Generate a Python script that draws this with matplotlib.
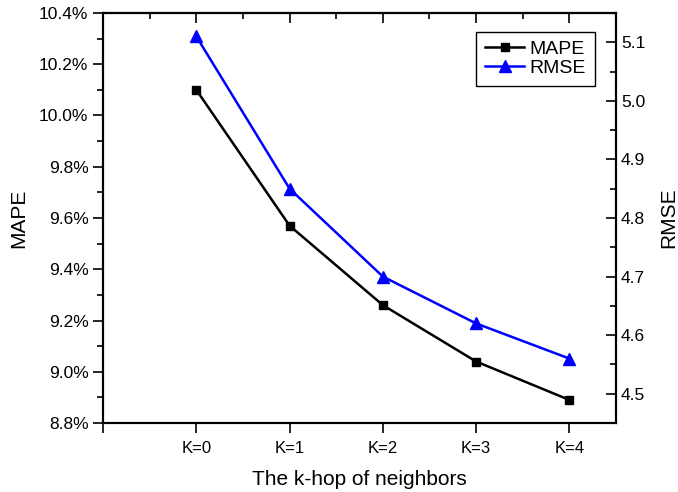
import matplotlib
matplotlib.use("Agg")
import matplotlib.pyplot as plt
from matplotlib.ticker import MultipleLocator, FuncFormatter, FixedLocator

plt.rcParams['font.family'] = ['Liberation Sans', 'DejaVu Sans']

categories = ["K=0", "K=1", "K=2", "K=3", "K=4"]
mape = [10.10, 9.57, 9.26, 9.04, 8.89]
rmse = [5.11, 4.85, 4.70, 4.62, 4.56]

fig = plt.figure(figsize=(6.78, 4.92), dpi=100)
ax = fig.add_axes([0.152, 0.1402, 0.7566, 0.8334])
ax2 = ax.twinx()

x = list(range(len(categories)))
l1, = ax.plot(x, mape, color='black', lw=1.8, marker='s', ms=6, label='MAPE')
l2, = ax2.plot(x, rmse, color='#0000ff', lw=1.8, marker='^', ms=8, label='RMSE')

ax.set_xlim(-1, 4.5)
ax.set_ylim(8.8, 10.4)
ax2.set_ylim(4.45, 5.15)

ax.xaxis.set_major_locator(FixedLocator([-1, 0, 1, 2, 3, 4]))
ax.set_xticklabels([""] + categories)

ax.yaxis.set_major_locator(MultipleLocator(0.2))
ax.yaxis.set_minor_locator(MultipleLocator(0.1))
ax.yaxis.set_major_formatter(FuncFormatter(lambda v, p: f"{v:.1f}%"))
ax2.yaxis.set_major_locator(MultipleLocator(0.1))
ax2.yaxis.set_minor_locator(MultipleLocator(0.05))
ax2.yaxis.set_major_formatter(FuncFormatter(lambda v, p: f"{v:.1f}"))

ax.tick_params(axis='x', which='major', direction='out', bottom=True, top=False, length=7, width=1.2, labelsize=12, pad=6)
ax.tick_params(axis='x', which='minor', bottom=False, top=False)
secx = ax.secondary_xaxis('top')
secx.xaxis.set_major_locator(FixedLocator([-1, 0, 1, 2, 3, 4]))
secx.xaxis.set_minor_locator(FixedLocator([-0.5, 0.5, 1.5, 2.5, 3.5]))
secx.tick_params(which='major', direction='in', length=7, width=1.2, labeltop=False)
secx.tick_params(which='minor', direction='in', length=4, width=1.2)
secx.spines['top'].set_linewidth(1.5)

ax.tick_params(axis='y', which='major', direction='out', left=True, right=False, length=7, width=1.2, labelsize=12.5)
ax.tick_params(axis='y', which='minor', direction='out', left=True, right=False, length=4, width=1.2)
ax2.tick_params(axis='y', which='major', direction='in', length=7, width=1.2, labelsize=12.5)
ax2.tick_params(axis='y', which='minor', direction='in', length=4, width=1.2)

for a in (ax, ax2):
    for s in a.spines.values():
        s.set_linewidth(1.5)

ax.set_xlabel("The k-hop of neighbors", fontsize=15, labelpad=10)
ax.set_ylabel("MAPE", fontsize=15, labelpad=8)
ax2.set_ylabel("RMSE", fontsize=15, labelpad=10)

leg = ax2.legend(handles=[l1, l2], loc='upper right', bbox_to_anchor=(0.959, 0.954),
                 borderaxespad=0, fontsize=14, frameon=True, fancybox=False,
                 edgecolor='black', framealpha=1, handlelength=2.0, handletextpad=0.3,
                 labelspacing=0.05, borderpad=0.45)
leg.get_frame().set_linewidth(1.0)

fig.savefig("out.png", dpi=100)
